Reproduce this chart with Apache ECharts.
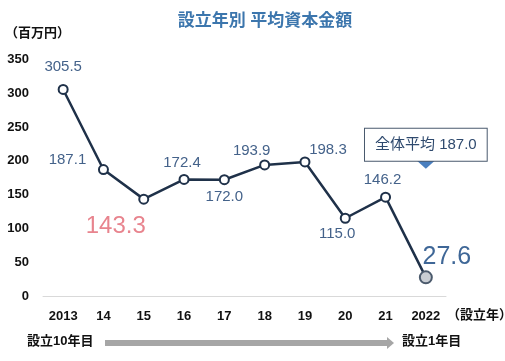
<!DOCTYPE html>
<html><head><meta charset="utf-8">
<script src="https://cdn.jsdelivr.net/npm/echarts@6/dist/echarts.min.js"></script>
<style>html,body{margin:0;padding:0;background:#fff}#c{width:505px;height:361px}</style>
</head><body><div id="c"></div>
<script>
const categories = ['2013','14','15','16','17','18','19','20','21','2022'];
const values = [305.5, 187.1, 143.3, 172.4, 172.0, 193.9, 198.3, 115.0, 146.2, 27.6];
const yTicks = [0, 50, 100, 150, 200, 250, 300, 350];
const averageValue = 187.0;
const titleText = '設立年別 平均資本金額';

const FONT = '"Liberation Sans","Noto Sans CJK JP",sans-serif';
// label placement styles (per point index)
const labelStyle = [
  {offset:[0,-23], size:15, color:'#44628a'},
  {offset:[-36,-10], size:15, color:'#44628a'},
  {offset:[-28,27], size:24, color:'#e8848e'},
  {offset:[-2,-17], size:15, color:'#44628a'},
  {offset:[0,17], size:15, color:'#44628a'},
  {offset:[-13,-14], size:15, color:'#44628a'},
  {offset:[23,-12], size:15, color:'#44628a'},
  {offset:[-8,16], size:15, color:'#44628a'},
  {offset:[-3,-17], size:15, color:'#44628a'},
  {offset:[21,-20], size:25, color:'#3f6797'}
];
const seriesData = values.map((v,i)=>{
  const s = labelStyle[i];
  const d = {value:v, label:{show:true, position:'inside', offset:s.offset, fontSize:s.size, color:s.color, fontFamily:FONT,
    formatter:(p)=>Number(p.value).toFixed(1)}};
  if(i===values.length-1){
    d.symbol = 'circle';
    d.symbolSize = 12;
    d.itemStyle = {color:'#c9cdd3', borderColor:'#4b5a6c', borderWidth:2};
  }
  return d;
});

const chart = echarts.init(document.getElementById('c'));
chart.setOption({
  animation:false,
  backgroundColor:'#fff',
  title:{text:titleText, left:260, textAlign:'center', top:8,
    textStyle:{fontSize:17, fontWeight:'bold', color:'#3c76ad', fontFamily:FONT}},
  grid:{left:43, right:59, top:59.4, bottom:65},
  xAxis:{type:'category', data:categories, boundaryGap:true,
    axisLine:{show:true, lineStyle:{color:'#d9d9d9', width:1}},
    axisTick:{show:false},
    axisLabel:{color:'#111', fontWeight:'bold', fontSize:13, margin:14, fontFamily:FONT}},
  yAxis:{type:'value', min:yTicks[0], max:yTicks[yTicks.length-1], interval:50,
    axisLine:{show:false}, axisTick:{show:false}, splitLine:{show:false},
    axisLabel:{color:'#111', fontWeight:'bold', fontSize:13, margin:14, fontFamily:FONT}},
  series:[{
    type:'line', data:seriesData,
    symbol:'emptyCircle', symbolSize:9,
    lineStyle:{color:'#1f3149', width:2.5},
    itemStyle:{color:'#1f3149', borderColor:'#1f3149', borderWidth:2},
    markPoint:{
      symbol:'triangle', symbolRotate:180, symbolSize:[20,9],
      itemStyle:{color:'#4a7fbf'},
      data:[{coord:['2022', 195], value:averageValue,
        label:{show:true, position:'top', distance:-1,
          formatter:'全体平均 ' + averageValue.toFixed(1),
          backgroundColor:'#fff', borderColor:'#4a5a6e', borderWidth:1,
          padding:[9,10,8,10], color:'#2f4a6e', fontSize:15, fontFamily:FONT}}]
    }
  }],
  graphic:[
    {type:'text', left:5, top:27, style:{text:'（百万円）', font:'bold 13px '+FONT, fill:'#111'}},
    {type:'text', left:447, top:309, style:{text:'（設立年）', font:'bold 13px '+FONT, fill:'#111'}},
    {type:'text', left:27, top:335, style:{text:'設立10年目', font:'bold 13px '+FONT, fill:'#111'}},
    {type:'text', left:402, top:335, style:{text:'設立1年目', font:'bold 13px '+FONT, fill:'#111'}},
    {type:'rect', shape:{x:105, y:340, width:283, height:6}, style:{fill:'#a6a6a6'}},
    {type:'polygon', shape:{points:[[387,337],[394,343],[387,349]]}, style:{fill:'#a6a6a6'}}
  ]
});
</script></body></html>
